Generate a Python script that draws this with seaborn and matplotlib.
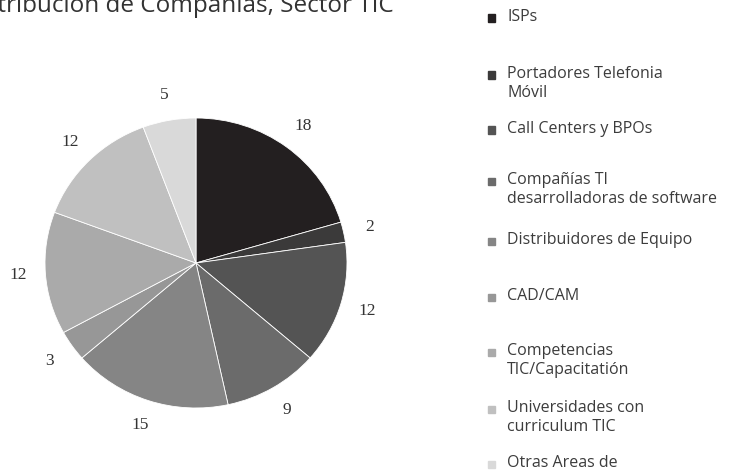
import seaborn as sns
import matplotlib.pyplot as plt
import matplotlib.patches as mpatches

# data
categories = [
    "ISPs",
    "Portadores Telefonia\nMóvil",
    "Call Centers y BPOs",
    "Compañías TI\ndesarrolladoras de software",
    "Distribuidores de Equipo",
    "CAD/CAM",
    "Competencias\nTIC/Capacitatión",
    "Universidades con\ncurriculum TIC",
    "Otras Areas de",
]
counts = [18, 2, 12, 9, 15, 3, 12, 12, 5]
greys = ["#231f20", "#3b3a3a", "#545454", "#6b6b6b", "#858585",
         "#979797", "#aaaaaa", "#c0c0c0", "#d9d9d9"]

sns.set_theme(style="white")
plt.rcParams['font.family'] = ['Open Sans', 'DejaVu Sans']

W, H = 739, 474
fig = plt.figure(figsize=(W / 100, H / 100), dpi=100)

# pie axes: centre ~(196, 263) px from top-left, radii ~151 x 145 px
cx, cy, rx, ry = 196, 263, 151, 145
lim = 1.32
ax = fig.add_axes([(cx - rx * lim) / W, (H - cy - ry * lim) / H,
                   2 * rx * lim / W, 2 * ry * lim / H])

wedges, texts = ax.pie(counts, labels=[str(c) for c in counts], colors=greys,
                       startangle=90, counterclock=False, labeldistance=1.18,
                       wedgeprops=dict(edgecolor="white", linewidth=0.6),
                       textprops=dict(fontsize=12.5, color="#333333",
                                      family="Liberation Serif"))
for t in texts:
    t.set_ha("center")
    t.set_va("center")
ax.set_aspect("auto")
ax.set_xlim(-lim, lim)
ax.set_ylim(-lim, lim)
ax.axis("off")

# title, cropped on the left and top like the source image
fig.text(-0.052, 1 - 12 / H, "Distribución de Compañías, Sector TIC",
         fontsize=17.5, color="#333333", va="baseline", ha="left")

# legend, one slot per category
slot_y = [18, 75, 130, 181, 241, 297, 352, 409, 464]
for lab, col, y in zip(categories, greys, slot_y):
    fig.patches.append(mpatches.Rectangle((488 / W, 1 - (y + 3.5) / H), 7 / W, 7 / H,
                                          transform=fig.transFigure, color=col,
                                          figure=fig))
    fig.text(507 / W, 1 - (y - 9) / H, lab, fontsize=11.5, color="#3c3c3c",
             va="top", ha="left", linespacing=1.25)

fig.savefig("out.png", dpi=100)
